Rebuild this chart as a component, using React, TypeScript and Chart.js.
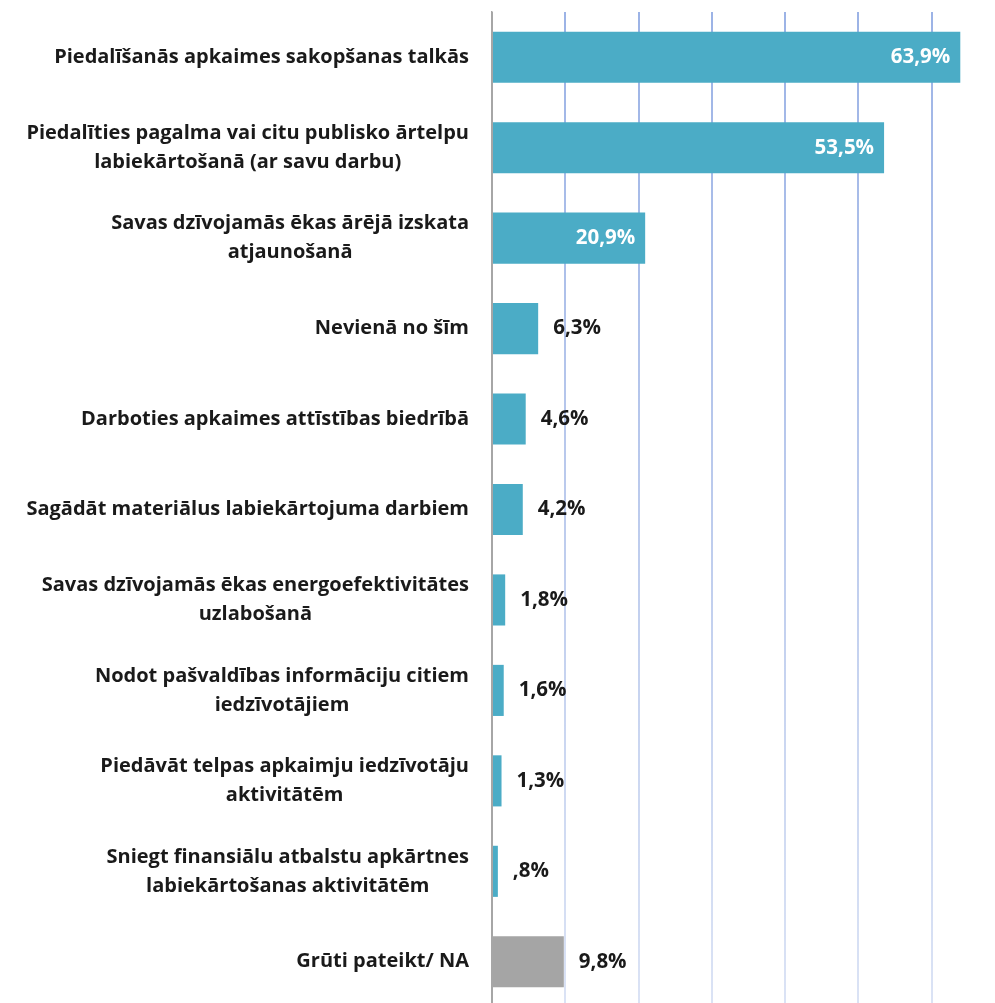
import React, { useEffect, useRef } from "react";
import { Chart, registerables } from "chart.js";

Chart.register(...registerables);

const categories: string[][] = [
  ["Piedalīšanās apkaimes sakopšanas talkās"],
  ["Piedalīties pagalma vai citu publisko ārtelpu", "labiekārtošanā (ar savu darbu)"],
  ["Savas dzīvojamās ēkas ārējā izskata", "atjaunošanā"],
  ["Nevienā no šīm"],
  ["Darboties apkaimes attīstības biedrībā"],
  ["Sagādāt materiālus labiekārtojuma darbiem"],
  ["Savas dzīvojamās ēkas energoefektivitātes", "uzlabošanā"],
  ["Nodot pašvaldības informāciju citiem", "iedzīvotājiem"],
  ["Piedāvāt telpas apkaimju iedzīvotāju", "aktivitātēm"],
  ["Sniegt finansiālu atbalstu apkārtnes", "labiekārtošanas aktivitātēm"],
  ["Grūti pateikt/ NA"],
];

const values: number[] = [63.9, 53.5, 20.9, 6.3, 4.6, 4.2, 1.8, 1.6, 1.3, 0.8, 9.8];

const barColors: string[] = [
  "#4BACC6", "#4BACC6", "#4BACC6", "#4BACC6", "#4BACC6", "#4BACC6",
  "#4BACC6", "#4BACC6", "#4BACC6", "#4BACC6", "#A5A5A5",
];

const FONT = "'Open Sans', Lato, sans-serif";
const LABEL_FONT = `bold 20px ${FONT}`;
const VALUE_FONT = `bold 20.5px ${FONT}`;

function fmt(v: number): string {
  let s = v.toFixed(1).replace(".", ",");
  if (s.startsWith("0,")) s = s.slice(1);
  return s + "%";
}

const yLabelPlugin = {
  id: "yLabels",
  afterDraw(chart: any) {
    const ctx = chart.ctx;
    const scale = chart.scales.y;
    ctx.save();
    ctx.font = LABEL_FONT;
    ctx.fillStyle = "#1a1a1a";
    ctx.textAlign = "center";
    ctx.textBaseline = "middle";
    const rightEdge = 469;
    const lineH = 29;
    categories.forEach((lines, i) => {
      const y = scale.getPixelForValue(i);
      const w = Math.max(...lines.map((l) => ctx.measureText(l).width));
      const cx = rightEdge - w / 2;
      lines.forEach((l, j) => {
        ctx.fillText(l, cx, y + (j - (lines.length - 1) / 2) * lineH);
      });
    });
    ctx.restore();
  },
};

const valueLabelPlugin = {
  id: "valueLabels",
  afterDatasetsDraw(chart: any) {
    const ctx = chart.ctx;
    const meta = chart.getDatasetMeta(0);
    ctx.save();
    ctx.font = VALUE_FONT;
    ctx.textBaseline = "middle";
    meta.data.forEach((el: any, i: number) => {
      const v = values[i];
      if (v >= 15) {
        ctx.fillStyle = "#ffffff";
        ctx.textAlign = "right";
        ctx.fillText(fmt(v), el.x - 10, el.y);
      } else {
        ctx.fillStyle = "#1a1a1a";
        ctx.textAlign = "left";
        ctx.fillText(fmt(v), el.x + 15, el.y);
      }
    });
    ctx.restore();
  },
};

export default function App() {
  const ref = useRef<HTMLCanvasElement | null>(null);
  useEffect(() => {
    if (!ref.current) return;
    const chart = new Chart(ref.current, {
      type: "bar",
      data: {
        labels: categories.map((c) => c.join(" ")),
        datasets: [
          {
            data: values,
            backgroundColor: barColors,
            borderWidth: 0,
            barPercentage: 0.565,
            categoryPercentage: 1,
          },
        ],
      },
      options: {
        indexAxis: "y",
        responsive: false,
        animation: false,
        devicePixelRatio: 1,
        layout: { padding: { top: 12, right: 0, bottom: 0, left: 0 } },
        plugins: { legend: { display: false }, tooltip: { enabled: false } },
        scales: {
          x: {
            min: 0,
            max: 70,
            ticks: { display: false, stepSize: 10 },
            border: { display: false },
            grid: {
              drawTicks: false,
              lineWidth: 2,
              color: (c: any) => {
                if (c.index === 0) return "#a6a6a6";
                const area = c.chart.chartArea;
                if (!area) return "#b0c2ea";
                const g = c.chart.ctx.createLinearGradient(0, area.top, 0, area.bottom);
                g.addColorStop(0, "#9cb3e6");
                g.addColorStop(0.5, "#bccbed");
                g.addColorStop(1, "#dbe3f5");
                return g;
              },
            },
            afterFit: (s: any) => {
              s.height = 0;
            },
          },
          y: {
            ticks: { display: false },
            grid: { display: false },
            border: { display: true, color: "#a6a6a6", width: 1.5 },
            afterFit: (s: any) => {
              s.width = 492;
            },
          },
        },
      },
      plugins: [yLabelPlugin, valueLabelPlugin],
    } as any);
    return () => chart.destroy();
  }, []);
  return (
    <div
      style={{
        position: "fixed",
        top: 0,
        left: 0,
        width: 995,
        height: 1003,
        overflow: "hidden",
        background: "#fff",
      }}
    >
      <canvas ref={ref} width={1005} height={1007} style={{ display: "block" }} />
    </div>
  );
}
